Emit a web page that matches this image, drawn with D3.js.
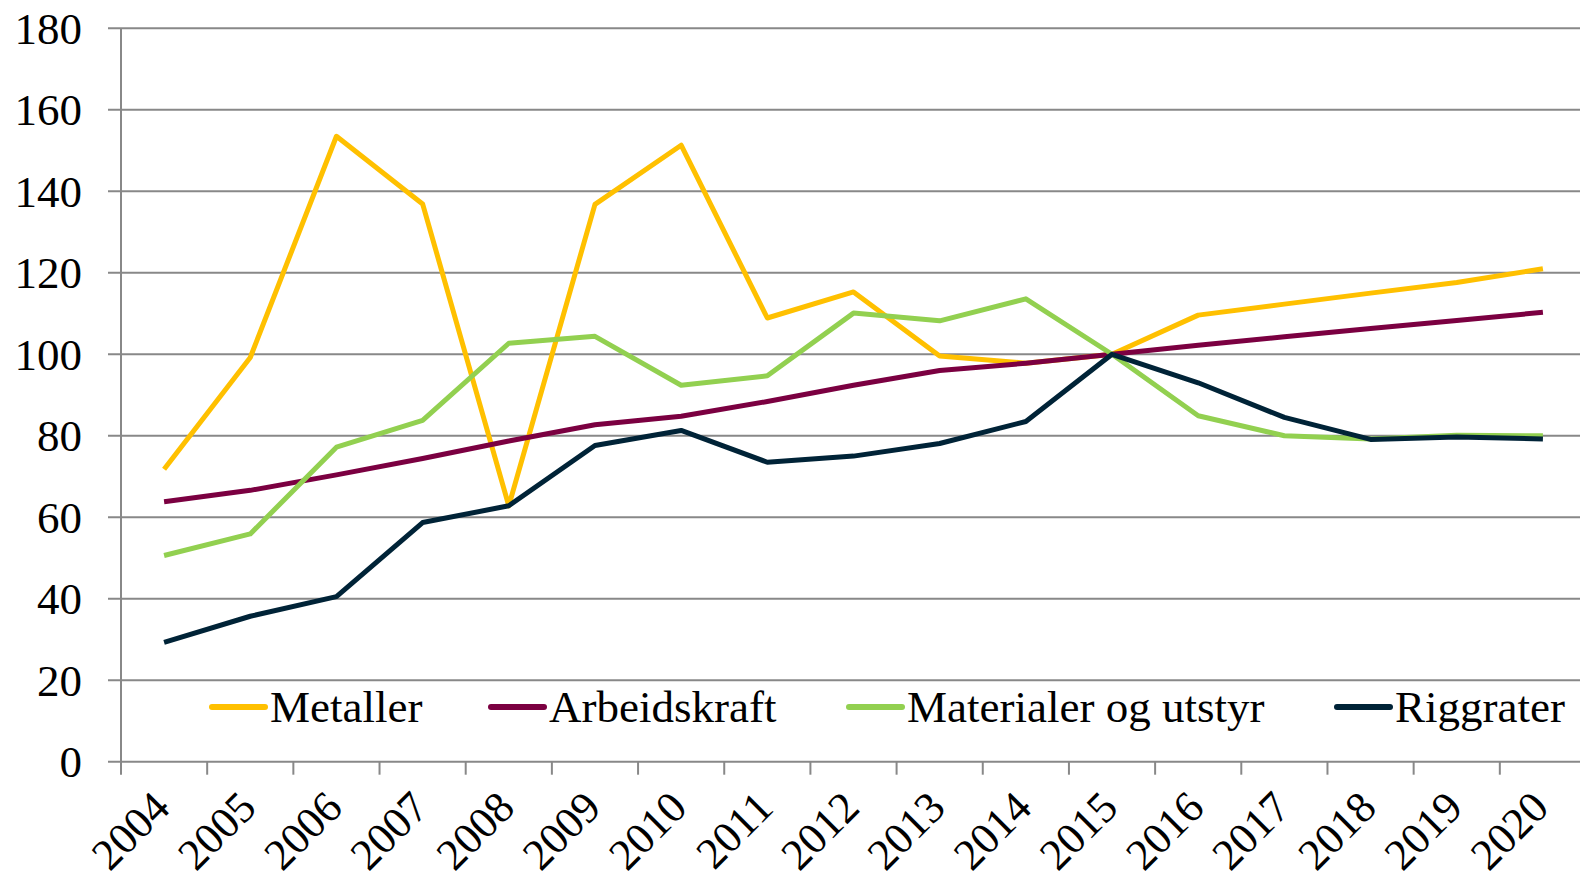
<!DOCTYPE html>
<html>
<head>
<meta charset="utf-8">
<script src="https://cdn.jsdelivr.net/npm/d3@7"></script>
<style>
  body { margin: 0; background: #fff; }
  svg { display: block; font-family: "Liberation Serif", "DejaVu Serif", serif; }
</style>
</head>
<body>
<script>
// categories
var years = ["2004","2005","2006","2007","2008","2009","2010","2011","2012",
             "2013","2014","2015","2016","2017","2018","2019","2020"];

// series values (index, 2015 = 100)
var metaller     = [71.8, 99.2, 153.5, 136.9, 62.8, 136.8, 151.3, 108.9, 115.3, 99.6, 97.8, 100, 109.6, 112.3, 115.0, 117.6, 121.0];
var arbeidskraft = [63.8, 66.6, 70.4, 74.4, 78.7, 82.7, 84.8, 88.4, 92.4, 96.0, 97.8, 100, 102.2, 104.3, 106.3, 108.3, 110.3];
var materialer   = [50.6, 55.9, 77.2, 83.8, 102.7, 104.4, 92.4, 94.7, 110.1, 108.2, 113.6, 100, 84.9, 80.0, 79.2, 80.1, 80.0];
var riggrater    = [29.3, 35.7, 40.5, 58.7, 62.8, 77.6, 81.3, 73.5, 75.0, 78.1, 83.5, 100, 93.0, 84.5, 79.1, 79.7, 79.2];

var seriesNames = ["Metaller", "Arbeidskraft", "Materialer og utstyr", "Riggrater"];
var yTicks = [0, 20, 40, 60, 80, 100, 120, 140, 160, 180];

var colors = ["#FFC000", "#7B0041", "#92D050", "#002337"];
var series = [metaller, arbeidskraft, materialer, riggrater];

var width = 1580, height = 885;
var plotLeft = 121, plotRight = 1586, plotTop = 28.3, plotBottom = 761.7;
var fontSize = 45;

var svg = d3.select("body").append("svg")
    .attr("width", width)
    .attr("height", height);

svg.append("rect").attr("width", width).attr("height", height).attr("fill", "#fff");

var x = d3.scaleBand().domain(years).range([plotLeft, plotRight]);
var y = d3.scaleLinear().domain([0, 180]).range([plotBottom, plotTop]);

// gridlines
svg.append("g").selectAll("line")
    .data(yTicks)
  .enter().append("line")
    .attr("x1", plotLeft - 13)
    .attr("x2", width)
    .attr("y1", function(d) { return y(d); })
    .attr("y2", function(d) { return y(d); })
    .attr("stroke", "#888")
    .attr("stroke-width", 2);

// y axis line
svg.append("line")
    .attr("x1", plotLeft).attr("x2", plotLeft)
    .attr("y1", plotTop).attr("y2", plotBottom + 13)
    .attr("stroke", "#888")
    .attr("stroke-width", 2);

// x ticks at band edges
var edges = years.map(function(d) { return x(d); }).concat([plotRight]);
svg.append("g").selectAll("line")
    .data(edges.slice(1))
  .enter().append("line")
    .attr("x1", function(d) { return d; })
    .attr("x2", function(d) { return d; })
    .attr("y1", plotBottom)
    .attr("y2", plotBottom + 13)
    .attr("stroke", "#888")
    .attr("stroke-width", 2);

// y labels
svg.append("g").selectAll("text")
    .data(yTicks)
  .enter().append("text")
    .attr("x", 82)
    .attr("y", function(d) { return y(d); })
    .attr("dy", "0.34em")
    .attr("text-anchor", "end")
    .attr("font-size", fontSize)
    .attr("fill", "#000")
    .text(function(d) { return d; });

// x labels, rotated
svg.append("g").selectAll("text")
    .data(years)
  .enter().append("text")
    .attr("transform", function(d) {
      return "translate(" + (x(d) + x.bandwidth() / 2 + 8) + "," + 810 + ") rotate(-45)";
    })
    .attr("text-anchor", "end")
    .attr("font-size", 44)
    .attr("fill", "#000")
    .text(function(d) { return d; });

// lines
var line = d3.line()
    .x(function(d, i) { return x(years[i]) + x.bandwidth() / 2; })
    .y(function(d) { return y(d); });

svg.append("g").selectAll("path")
    .data(series)
  .enter().append("path")
    .attr("d", function(d) { return line(d); })
    .attr("fill", "none")
    .attr("stroke", function(d, i) { return colors[i]; })
    .attr("stroke-width", 5)
    .attr("stroke-linejoin", "round");

// legend
var legendX = [212, 491, 849, 1337];
var legendY = 707;
var leg = svg.append("g").selectAll("g")
    .data(seriesNames)
  .enter().append("g")
    .attr("transform", function(d, i) { return "translate(" + legendX[i] + "," + legendY + ")"; });

leg.append("line")
    .attr("x1", 0).attr("x2", 53)
    .attr("stroke", function(d, i) { return colors[i]; })
    .attr("stroke-width", 6)
    .attr("stroke-linecap", "round");

leg.append("text")
    .attr("x", 58)
    .attr("dy", "0.34em")
    .attr("font-size", fontSize)
    .attr("fill", "#000")
    .text(function(d) { return d; });
</script>
</body>
</html>
